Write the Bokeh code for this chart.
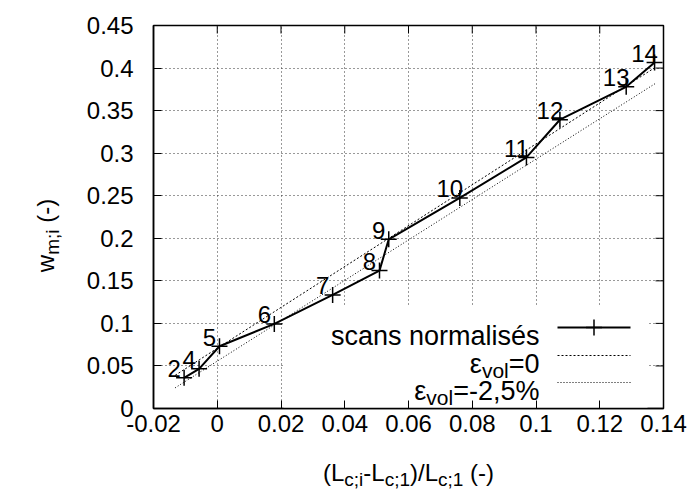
import math
from bokeh.plotting import figure
from bokeh.layouts import column, row
from bokeh.models import Range1d, FixedTicker, Label, BoxAnnotation
from bokeh.core.properties import value
from bokeh.embed import file_html
from bokeh.resources import INLINE

# ---------------- data ----------------
scan_ids = ["2", "4", "5", "6", "7", "8", "9", "10", "11", "12", "13", "14"]
scan_x = [-0.0104, -0.0057, 0.0007, 0.0179, 0.0362, 0.0509, 0.0538, 0.0761, 0.0970, 0.1075, 0.1283, 0.1372]
scan_y = [0.0360, 0.0466, 0.0731, 0.0994, 0.1335, 0.1620, 0.1988, 0.2474, 0.2950, 0.3393, 0.3780, 0.4066]

eps0_x = [-0.0132, 0.1375]
eps0_y = [0.0390, 0.4010]
eps25_x = [-0.0132, 0.1375]
eps25_y = [0.0243, 0.3820]

x_ticks = [-0.02, 0.0, 0.02, 0.04, 0.06, 0.08, 0.10, 0.12, 0.14]
x_tick_labels = ["-0.02", "0", "0.02", "0.04", "0.06", "0.08", "0.1", "0.12", "0.14"]
y_ticks = [0.0, 0.05, 0.10, 0.15, 0.20, 0.25, 0.30, 0.35, 0.40, 0.45]
y_tick_labels = ["0", "0.05", "0.1", "0.15", "0.2", "0.25", "0.3", "0.35", "0.4", "0.45"]

X_RANGE = (-0.02, 0.14)
Y_RANGE = (0.0, 0.45)

# ---------------- layout (page pixels) ----------------
FONT = "Liberation Sans"
FS = 24          # tick / point labels / axis titles
LFS = 27         # key text
SFS = 19         # subscripts
LSFS = 21        # key subscripts
SUBSHIFT = 7
M = 0            # bokeh's page template has no body margin
FL, FR, FT, FB = 153, 663, 25, 408
YLAB_W = 72
MAIN_BOTTOM = 34
MAIN_H = (FT - M) + (FB - FT) + MAIN_BOTTOM
XLAB_H = 49
TOTAL_W = 694


def dx(px):
    return X_RANGE[0] + (px - FL) / (FR - FL) * (X_RANGE[1] - X_RANGE[0])


def dy(py):
    return Y_RANGE[0] + (FB - py) / (FB - FT) * (Y_RANGE[1] - Y_RANGE[0])


AW = {' ': 278, '(': 333, ')': 333, '-': 333, '/': 278, ';': 278, ',': 278, '=': 584,
      '%': 889, 'L': 556, 'c': 500, 'i': 222, 'm': 833, 'o': 556, 'v': 500, 'l': 222,
      'w': 722, 'ε': 446}


def tw(s, fs):
    return sum(AW.get(ch, 556) for ch in s) / 1000.0 * fs


p = figure(frame_width=FR - FL, frame_height=FB - FT,
           x_range=Range1d(*X_RANGE), y_range=Range1d(*Y_RANGE),
           output_backend="svg", toolbar_location=None, title=None,
           min_border_left=FL - M - YLAB_W, min_border_top=FT - M,
           min_border_right=TOTAL_W - (FR - M), min_border_bottom=MAIN_BOTTOM)
p.outline_line_color = "black"
p.outline_line_width = 1.5
p.background_fill_color = "white"
p.border_fill_color = "white"

p.xaxis.ticker = FixedTicker(ticks=x_ticks)
p.xaxis.major_label_overrides = dict(zip(x_ticks, x_tick_labels))
p.yaxis.ticker = FixedTicker(ticks=y_ticks)
p.yaxis.major_label_overrides = dict(zip(y_ticks, y_tick_labels))
for ax in p.axis:
    ax.major_tick_in = 8
    ax.major_tick_out = 0
    ax.minor_tick_line_color = None
    ax.axis_line_color = "black"
    ax.axis_line_width = 1.5
    ax.major_tick_line_color = "black"
    ax.major_tick_line_width = 1
    ax.major_label_text_font = FONT
    ax.major_label_text_font_size = f"{FS}px"
    ax.major_label_text_color = "black"
p.yaxis.major_label_standoff = 20
p.xaxis.major_label_standoff = 6

p.xgrid.ticker = FixedTicker(ticks=x_ticks)
p.ygrid.ticker = FixedTicker(ticks=y_ticks)
for g in (p.xgrid, p.ygrid):
    g.grid_line_color = "#333333"
    g.grid_line_dash = "1 3"
    g.grid_line_width = 1

# opaque key background
p.add_layout(BoxAnnotation(left=dx(283), right=dx(647), top=dy(305), bottom=dy(FB),
                           fill_color="white", fill_alpha=1.0, line_color=None,
                           level="underlay"))

# mirrored inward ticks on top and right borders
TICK = 8
tx = TICK / (FR - FL) * (X_RANGE[1] - X_RANGE[0])
ty = TICK / (FB - FT) * (Y_RANGE[1] - Y_RANGE[0])
p.segment(x0=x_ticks, y0=[Y_RANGE[1]] * len(x_ticks), x1=x_ticks,
          y1=[Y_RANGE[1] - ty] * len(x_ticks), line_color="black", line_width=1)
p.segment(x0=[X_RANGE[1]] * len(y_ticks), y0=y_ticks, x1=[X_RANGE[1] - tx] * len(y_ticks),
          y1=y_ticks, line_color="black", line_width=1)

# model lines
p.line(eps0_x, eps0_y, line_color="black", line_width=1, line_dash="2 2")
p.line(eps25_x, eps25_y, line_color="black", line_width=1, line_dash="1 2")

# scans
p.line(scan_x, scan_y, line_color="black", line_width=2)
p.scatter(scan_x, scan_y, marker="cross", size=16, line_color="black", line_width=1.5)
p.text(x=scan_x, y=scan_y, text=scan_ids, x_offset=-10, y_offset=-9,
       text_align="center", text_baseline="alphabetic",
       text_font=value(FONT), text_font_size=value(f"{FS}px"), text_color="black")


def rich_pieces(pieces, fs, sfs, align):
    widths = [tw(t, sfs if sub else fs) + gap for t, sub, gap in pieces]
    total = sum(widths)
    pos = {"left": 0.0, "center": -total / 2.0, "right": -total}[align]
    out = []
    for (t, sub, gap), w in zip(pieces, widths):
        out.append((t, sub, pos + gap))
        pos += w
    return out


def key_rich(pieces, px, py):
    for t, sub, off in rich_pieces(pieces, LFS, LSFS, "right"):
        p.add_layout(Label(x=dx(px + off), y=dy(py + (SUBSHIFT if sub else 0)), text=t,
                           text_align="left", text_baseline="alphabetic",
                           text_font=FONT, text_font_size=f"{LSFS if sub else LFS}px",
                           text_color="black"))


# key
rows = [327, 355, 382]
TXT_R = 539
S0, S1 = 557, 630
p.add_layout(Label(x=dx(TXT_R), y=dy(rows[0] + 8), text="scans normalisés",
                   text_align="right", text_baseline="alphabetic",
                   text_font=FONT, text_font_size=f"{LFS}px", text_color="black"))
p.line([dx(S0), dx(S1)], [dy(rows[0])] * 2, line_color="black", line_width=2)
p.scatter([dx((S0 + S1) / 2)], [dy(rows[0])], marker="cross", size=16,
          line_color="black", line_width=1.5)

key_rich([("ε", False, 0), ("vol", True, 0), ("=0", False, 0)], TXT_R, rows[1] + 8)
p.line([dx(S0), dx(S1)], [dy(rows[1])] * 2, line_color="black", line_width=1, line_dash="2 2")

key_rich([("ε", False, 0), ("vol", True, 0), ("=-2,5%", False, 0)], TXT_R, rows[2] + 8)
p.line([dx(S0), dx(S1)], [dy(rows[2])] * 2, line_color="black", line_width=1, line_dash="1 2")


def blank_fig(w, h):
    f = figure(frame_width=w, frame_height=h, x_range=Range1d(0, w), y_range=Range1d(0, h),
               output_backend="svg", toolbar_location=None, title=None,
               x_axis_type=None, y_axis_type=None, min_border=0)
    f.outline_line_color = None
    f.grid.visible = False
    f.background_fill_color = "white"
    f.border_fill_color = "white"
    return f


SP = tw(" ", FS)

# y-axis title (rotated), own little canvas on the left
fy = blank_fig(YLAB_W, MAIN_H)
Y_TITLE_C = 210       # page y of title centre
Y_TITLE_BASE = 45     # page x of baseline
yt = rich_pieces([("w", False, 0), ("m;i", True, 0), ("(-)", False, SP)], FS, SFS, "center")
fy.text(x=[Y_TITLE_BASE - M + (SUBSHIFT if s else 0) for _, s, _ in yt],
        y=[(M + MAIN_H - Y_TITLE_C) + off for _, _, off in yt],
        text=[t for t, _, _ in yt], angle=math.pi / 2,
        text_align="left", text_baseline="alphabetic", text_font=value(FONT),
        text_font_size=[f"{SFS if s else FS}px" for _, s, _ in yt], text_color="black")

# x-axis title, own little canvas below
fx = blank_fig(TOTAL_W, XLAB_H)
X_TITLE_BASE = 472
xt = rich_pieces([("(L", False, 0), ("c;i", True, 0), ("-L", False, 0), ("c;1", True, 0),
                  (")/L", False, 0), ("c;1", True, 0), ("(-)", False, SP)], FS, SFS, "center")
xbottom = M + MAIN_H + XLAB_H
fx.text(x=[(FL + FR) / 2 - M + off for _, _, off in xt],
        y=[xbottom - (X_TITLE_BASE + (SUBSHIFT if s else 0)) for _, s, _ in xt],
        text=[t for t, _, _ in xt],
        text_align="left", text_baseline="alphabetic", text_font=value(FONT),
        text_font_size=[f"{SFS if s else FS}px" for _, s, _ in xt], text_color="black")

layout = column(row(fy, p, spacing=0), fx, spacing=0)
open("out.html", "w").write(file_html(layout, INLINE))
